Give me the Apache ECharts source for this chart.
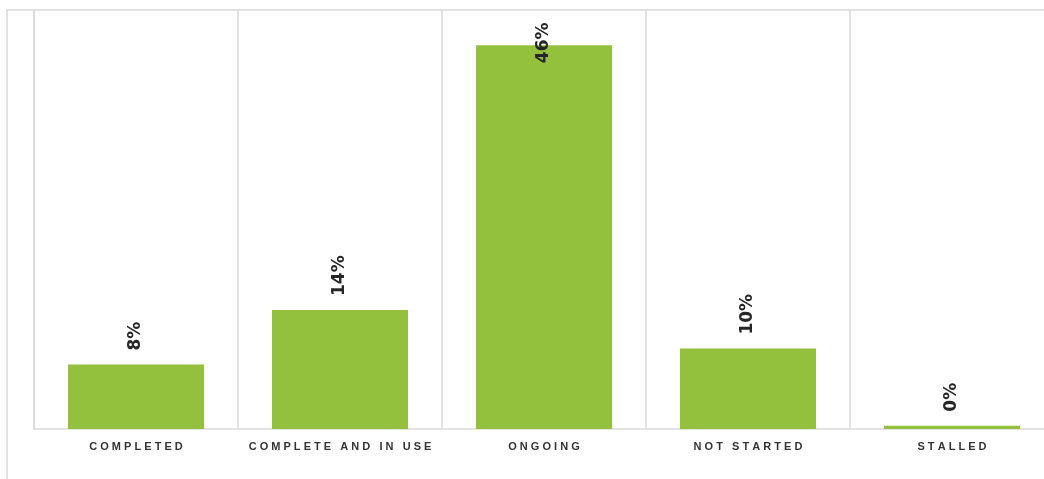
<!DOCTYPE html>
<html>
<head>
<meta charset="utf-8">
<script src="https://cdn.jsdelivr.net/npm/echarts@6/dist/echarts.min.js"></script>
<style>
html,body{margin:0;padding:0;background:#fff;}
#chart{width:1044px;height:479px;}
</style>
</head>
<body>
<div id="chart"></div>
<script>
const categories = ['COMPLETED', 'COMPLETE AND IN USE', 'ONGOING', 'NOT STARTED', 'STALLED'];
const values = [7.7, 14.2, 45.8, 9.6, 0.4];
const yMax = 50;

const chart = echarts.init(document.getElementById('chart'), null, {renderer: 'canvas'});

const data = values.map(function (v, i) {
  const item = {value: v};
  if (v > yMax - 6) {
    item.label = {position: 'insideTop', distance: 18};
  }
  return item;
});

chart.setOption({
  animation: false,
  backgroundColor: '#ffffff',
  graphic: [{
    type: 'rect',
    shape: {x: 7, y: 10, width: 1100, height: 520},
    style: {fill: 'none', stroke: '#d9d9d9', lineWidth: 1.5},
    silent: true, z: -1
  }],
  grid: {left: 34, top: 10, width: 1020, bottom: 50, containLabel: false, outerBoundsMode: 'none'},
  xAxis: {
    type: 'category',
    data: categories,
    axisLine: {show: true, lineStyle: {color: '#d9d9d9', width: 1.5}},
    axisTick: {show: false},
    splitLine: {show: true, lineStyle: {color: '#d9d9d9', width: 1.5}},
    axisLabel: {
      interval: 0,
      margin: 12,
      color: '#333333',
      fontFamily: 'Liberation Sans',
      fontWeight: 'bold',
      fontSize: 11,
      formatter: function (s) { return s.split('').join(' '); }
    }
  },
  yAxis: {
    type: 'value',
    min: 0, max: yMax,
    axisLine: {show: true, lineStyle: {color: '#d9d9d9', width: 1.5}},
    axisTick: {show: false},
    axisLabel: {show: false},
    splitLine: {show: false}
  },
  series: [{
    type: 'bar',
    data: data,
    barCategoryGap: '33.3%',
    itemStyle: {color: '#93C13E'},
    label: {
      show: true,
      position: 'top',
      distance: 14,
      rotate: 90,
      align: 'left',
      verticalAlign: 'middle',
      color: '#262626',
      fontFamily: 'DejaVu Sans',
      fontWeight: 'bold',
      fontSize: 17,
      formatter: function (p) { return Math.round(p.value) + '%'; }
    }
  }]
});
</script>
</body>
</html>
